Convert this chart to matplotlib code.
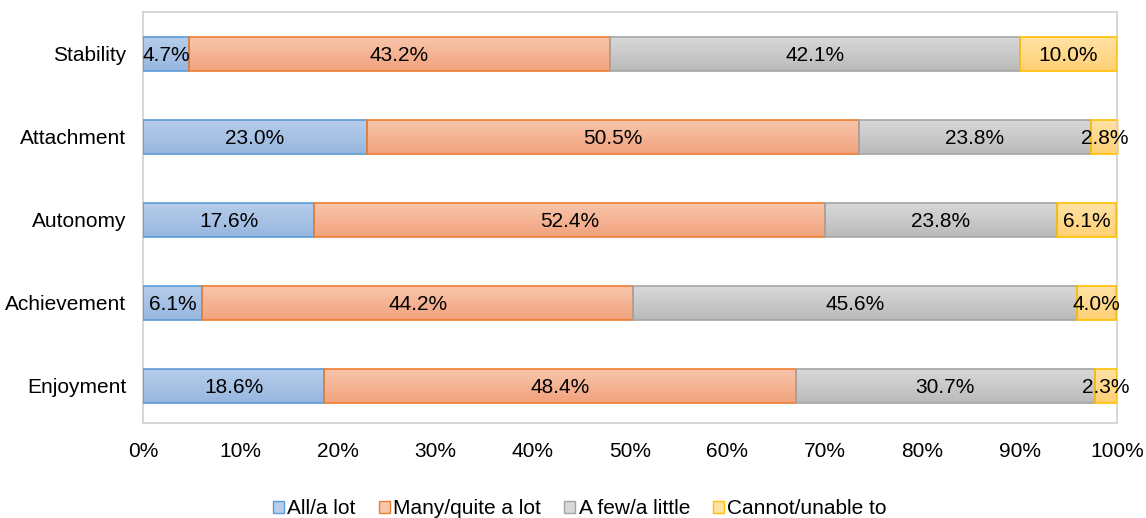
import numpy as np
import matplotlib
matplotlib.use("Agg")
import matplotlib.pyplot as plt
from matplotlib.colors import LinearSegmentedColormap
from matplotlib.patches import Patch

categories = ["Enjoyment", "Achievement", "Autonomy", "Attachment", "Stability"]
all_lot = [18.6, 6.1, 17.6, 23.0, 4.7]
many = [48.4, 44.2, 52.4, 50.5, 43.2]
few = [30.7, 45.6, 23.8, 23.8, 42.1]
cannot = [2.3, 4.0, 6.1, 2.8, 10.0]
series_names = ["All/a lot", "Many/quite a lot", "A few/a little", "Cannot/unable to"]

# (top, bottom, edge) colours for the gradient fills
STYLE = [
    ("#b7cdea", "#97b7e0", "#5b9bd5"),
    ("#f8c6ac", "#f2a27d", "#ed7d31"),
    ("#d9d9d9", "#bababa", "#a5a5a5"),
    ("#ffe3a6", "#ffd075", "#ffc000"),
]

plt.rcParams["font.family"] = ["Liberation Sans", "DejaVu Sans"]
plt.rcParams["font.size"] = 15

fig = plt.figure(figsize=(11.46, 5.18), dpi=100)
ax = fig.add_axes([0.1248, 0.1834, 0.8499, 0.7934])

y = np.arange(len(categories))
h = 0.41
left = np.zeros(len(categories))
for vals, (top, bot, edge) in zip([all_lot, many, few, cannot], STYLE):
    cmap = LinearSegmentedColormap.from_list("g", [bot, top])
    bars = ax.barh(y, vals, h, left=left, facecolor="none", edgecolor=edge,
                   lw=1.2, zorder=3)
    for b in bars:
        x0, y0 = b.get_x(), b.get_y()
        im = ax.imshow(np.linspace(0, 1, 50).reshape(-1, 1), cmap=cmap,
                       extent=[x0, x0 + b.get_width(), y0, y0 + b.get_height()],
                       origin="lower", aspect="auto", zorder=2)
        im.set_clip_path(b)
    for yi, l, v in zip(y, left, vals):
        ax.text(l + v / 2, yi - 0.02, f"{v:.1f}%", ha="center", va="center",
                fontsize=15, color="black", zorder=4)
    left += np.array(vals)

ax.set_xlim(0, 100)
ax.set_ylim(-0.45, 4.5)
ax.set_yticks(y)
ax.set_yticklabels(categories)
ax.set_xticks(np.arange(0, 101, 10))
ax.set_xticklabels([f"{t}%" for t in range(0, 101, 10)])
ax.tick_params(length=0)
ax.tick_params(axis="x", pad=14)
ax.tick_params(axis="y", pad=12)
for s in ax.spines.values():
    s.set_color("#d0d0d0")
    s.set_linewidth(1.2)

handles = [Patch(facecolor=t, edgecolor=e, label=n)
           for n, (t, b, e) in zip(series_names, STYLE)]
fig.legend(handles=handles, loc="center", bbox_to_anchor=(0.506, 0.018),
           ncol=4, frameon=False, fontsize=15, handlelength=0.55,
           handleheight=0.55, handletextpad=0.15, columnspacing=1.1)

fig.savefig("out.png", dpi=100)
